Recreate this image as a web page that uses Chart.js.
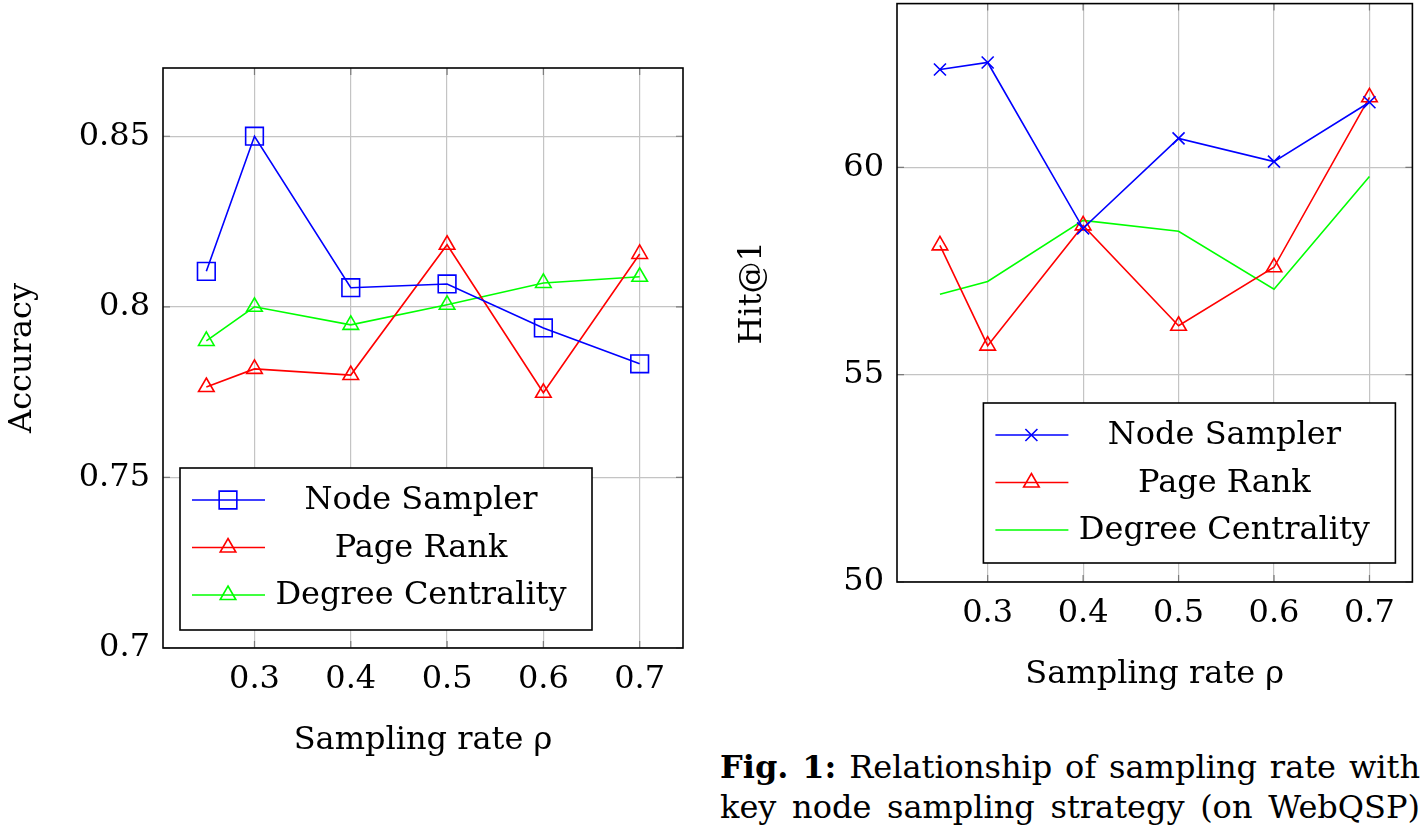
<!DOCTYPE html>
<html>
<head>
<meta charset="utf-8">
<script src="https://cdn.jsdelivr.net/npm/chart.js@4"></script>
<style>
  body { margin: 0; background: #fff; width: 1423px; height: 832px; position: relative; overflow: hidden; }
  #accBox { position: absolute; left: 0; top: 0; width: 700px; height: 780px; }
  #hitBox { position: absolute; left: 700px; top: -7px; width: 723px; height: 727px; }
  .cap { position: absolute; left: 720px; width: 700px; font-family: "DejaVu Serif", serif;
         font-size: 32px; line-height: 40px; color: #000; text-align: justify; text-align-last: justify;
         white-space: nowrap; }
</style>
</head>
<body>
<div id="accBox"><canvas id="accChart"></canvas></div>
<div id="hitBox"><canvas id="hitChart"></canvas></div>
<div class="cap" style="top:747px"><b>Fig. 1:</b> Relationship of sampling rate with</div>
<div class="cap" style="top:787px">key node sampling strategy (on WebQSP)</div>
<script>
// sampling rates (x values)
const rates = [0.25, 0.3, 0.4, 0.5, 0.6, 0.7];
const xTicks = [0.3, 0.4, 0.5, 0.6, 0.7];

// left plot: accuracy
const accNode = [0.8104, 0.85, 0.8056, 0.8067, 0.7938, 0.7833];
const accPage = [0.7765, 0.7818, 0.7800, 0.8182, 0.7748, 0.8155];
const accDegree = [0.7900, 0.8000, 0.7947, 0.8006, 0.8070, 0.8088];
const accTicks = [0.7, 0.75, 0.8, 0.85];

// right plot: Hit@1
const hitNode = [62.36, 62.53, 58.53, 60.70, 60.14, 61.57];
const hitPage = [58.12, 55.70, 58.60, 56.18, 57.59, 61.69];
const hitDegree = [56.94, 57.25, 58.72, 58.46, 57.06, 59.78];
const hitTicks = [50, 55, 60];

const FONT = { family: '"DejaVu Serif", serif', size: 32 };
const BLUE = '#0000ff', RED = '#ff0000', GREEN = '#00ff00';

function pts(ys) {
    return rates.map((x, i) => ({ x: x, y: ys[i] }));
}

function series(label, ys, color, style, radius) {
    return {
        label: label,
        data: pts(ys),
        borderColor: color,
        backgroundColor: 'transparent',
        pointBackgroundColor: 'transparent',
        pointBorderColor: color,
        pointStyle: style,
        pointRadius: radius,
        pointBorderWidth: 1.6,
        borderWidth: 1.6,
        tension: 0,
        clip: false
    };
}

// frame + inner tick marks
const framePlugin = {
    id: 'frame',
    afterDraw(chart) {
        const ctx = chart.ctx, a = chart.chartArea;
        const xs = chart.scales.x, ys = chart.scales.y;
        ctx.save();
        ctx.strokeStyle = '#7a7a7a';
        ctx.lineWidth = 1.2;
        ctx.beginPath();
        xs.ticks.forEach(t => {
            const px = xs.getPixelForValue(t.value);
            ctx.moveTo(px, a.bottom); ctx.lineTo(px, a.bottom - 7);
            ctx.moveTo(px, a.top); ctx.lineTo(px, a.top + 7);
        });
        ys.ticks.forEach(t => {
            const py = ys.getPixelForValue(t.value);
            ctx.moveTo(a.left, py); ctx.lineTo(a.left + 7, py);
            ctx.moveTo(a.right, py); ctx.lineTo(a.right - 7, py);
        });
        ctx.stroke();
        ctx.strokeStyle = '#000';
        ctx.lineWidth = 1.6;
        ctx.strokeRect(a.left, a.top, a.right - a.left, a.bottom - a.top);
        ctx.restore();
    }
};

// pgfplots style legend box inside the plot
const boxLegend = {
    id: 'boxLegend',
    afterDraw(chart, args, opts) {
        const ctx = chart.ctx, a = chart.chartArea;
        const left = opts.anchor === 'left' ? a.left + opts.dx : a.right - opts.dx - opts.w;
        const top = a.bottom - opts.dy - opts.h;
        ctx.save();
        ctx.fillStyle = '#fff';
        ctx.fillRect(left, top, opts.w, opts.h);
        ctx.strokeStyle = '#000';
        ctx.lineWidth = 1.6;
        ctx.strokeRect(left, top, opts.w, opts.h);
        ctx.font = FONT.size + 'px ' + FONT.family;
        ctx.textAlign = 'center';
        ctx.textBaseline = 'middle';
        chart.data.datasets.forEach((ds, i) => {
            const y = top + 32 + i * 47.5;
            ctx.strokeStyle = ds.borderColor;
            ctx.lineWidth = ds.borderWidth;
            ctx.beginPath();
            ctx.moveTo(left + 12, y); ctx.lineTo(left + 85, y);
            ctx.stroke();
            if (ds.pointStyle && ds.pointRadius > 0) {
                ctx.fillStyle = 'rgba(0,0,0,0)';
                Chart.helpers.drawPoint(ctx, {
                    pointStyle: ds.pointStyle, rotation: 0,
                    radius: ds.pointRadius, borderWidth: ds.pointBorderWidth
                }, left + 48, y);
            }
            ctx.fillStyle = '#000';
            ctx.fillText(ds.label, left + 241, y + 1);
        });
        ctx.restore();
    }
};

function makeOptions(cfg) {
    return {
        responsive: true,
        maintainAspectRatio: false,
        animation: false,
        layout: { padding: cfg.padding },
        plugins: {
            legend: { display: false },
            tooltip: { enabled: false },
            boxLegend: cfg.legend
        },
        scales: {
            x: {
                type: 'linear',
                min: 0.205, max: 0.745,
                afterBuildTicks: s => { s.ticks = xTicks.map(v => ({ value: v })); },
                afterFit: s => { s.height = 120; s.paddingLeft = 0; s.paddingRight = 0; },
                grid: { color: '#c4c4c4', lineWidth: 1.2, drawTicks: false },
                border: { display: false },
                ticks: { color: '#000', font: FONT, padding: 12, callback: v => String(v) },
                title: { display: true, text: 'Sampling rate ρ', color: '#000', font: FONT, padding: { top: 0, bottom: 8 } }
            },
            y: {
                min: cfg.yMin, max: cfg.yMax,
                afterBuildTicks: s => { s.ticks = cfg.yTicks.map(v => ({ value: v })); },
                afterFit: s => { s.width = cfg.yWidth; s.paddingTop = 0; s.paddingBottom = 0; },
                grid: { color: '#c4c4c4', lineWidth: 1.2, drawTicks: false },
                border: { display: false },
                ticks: { color: '#000', font: FONT, padding: 13, callback: v => String(v) },
                title: { display: true, text: cfg.yTitle, color: '#000', font: FONT, padding: { top: cfg.titlePad, bottom: 0 } }
            }
        }
    };
}

new Chart(document.getElementById('accChart'), {
    type: 'line',
    data: {
        datasets: [
            series('Node Sampler', accNode, BLUE, 'rect', 12.5),
            series('Page Rank', accPage, RED, 'triangle', 9),
            series('Degree Centrality', accDegree, GREEN, 'triangle', 9)
        ]
    },
    options: makeOptions({
        padding: { left: 0, top: 68, right: 17, bottom: 12 },
        yMin: 0.7, yMax: 0.87, yTicks: accTicks, yWidth: 163,
        yTitle: 'Accuracy', titlePad: 3,
        legend: { anchor: 'left', dx: 17, dy: 18, w: 412, h: 162 }
    }),
    plugins: [framePlugin, boxLegend]
});

new Chart(document.getElementById('hitChart'), {
    type: 'line',
    data: {
        datasets: [
            series('Node Sampler', hitNode, BLUE, 'crossRot', 8.5),
            series('Page Rank', hitPage, RED, 'triangle', 9),
            series('Degree Centrality', hitDegree, GREEN, false, 0)
        ]
    },
    options: makeOptions({
        padding: { left: 0, top: 3, right: 6, bottom: 18 },
        yMin: 50, yMax: 63.95, yTicks: hitTicks, yWidth: 197,
        yTitle: 'Hit@1', titlePad: 33,
        legend: { anchor: 'right', dx: 17, dy: 19, w: 412, h: 160 }
    }),
    plugins: [framePlugin, boxLegend]
});
</script>
</body>
</html>
